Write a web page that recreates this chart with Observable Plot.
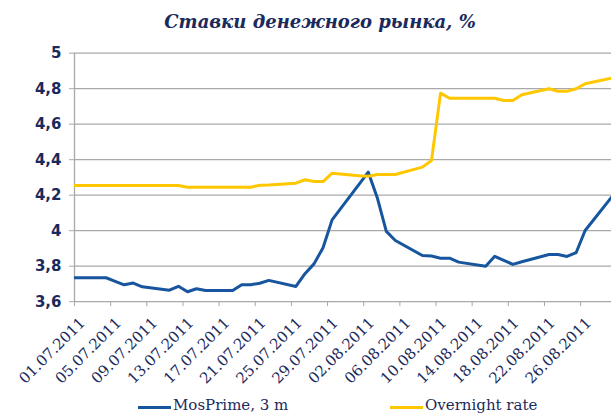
<!DOCTYPE html>
<html>
<head>
<meta charset="utf-8">
<script src="https://cdn.jsdelivr.net/npm/d3@7"></script>
<script src="https://cdn.jsdelivr.net/npm/@observablehq/plot@0.6"></script>
<style>
  html, body { margin: 0; padding: 0; background: #fff; }
  #wrap { position: relative; width: 611px; height: 416px; overflow: hidden; }
  #title { position: absolute; left: 0; top: 11px; width: 640px; text-align: center;
    font-family: "DejaVu Serif", serif; font-weight: bold; font-style: italic; font-size: 18px; color: #1b2a5c; }
  #chart { position: absolute; left: 0; top: 40px; }
  .leg { position: absolute; top: 396px; font-family: "DejaVu Serif", serif; font-size: 15px; color: #1b2a5c; line-height: 18px; white-space: nowrap; }
  .sw { display: inline-block; width: 33px; height: 3px; vertical-align: middle; margin-right: 2px; position: relative; top: 1px; }
</style>
</head>
<body>
<div id="wrap">
  <div id="title">Ставки денежного рынка, %</div>
  <div id="chart"></div>
  <div class="leg" style="left:138px"><span class="sw" style="background:#17569f"></span>MosPrime, 3 m</div>
  <div class="leg" style="left:390px"><span class="sw" style="background:#ffc700"></span>Overnight rate</div>
</div>
<script>
const dates = ["2011-06-30","2011-07-01","2011-07-04","2011-07-05","2011-07-06","2011-07-07","2011-07-08",
  "2011-07-11","2011-07-12","2011-07-13","2011-07-14","2011-07-15",
  "2011-07-18","2011-07-19","2011-07-20","2011-07-21","2011-07-22",
  "2011-07-25","2011-07-26","2011-07-27","2011-07-28","2011-07-29",
  "2011-08-01","2011-08-02","2011-08-03","2011-08-04","2011-08-05",
  "2011-08-08","2011-08-09","2011-08-10","2011-08-11","2011-08-12",
  "2011-08-15","2011-08-16","2011-08-17","2011-08-18","2011-08-19",
  "2011-08-22","2011-08-23","2011-08-24","2011-08-25","2011-08-26",
  "2011-08-29"];
const mosprime = [3.735,3.735,3.735,3.715,3.695,3.705,3.684,
  3.665,3.687,3.656,3.673,3.663,
  3.663,3.696,3.696,3.704,3.72,
  3.686,3.758,3.813,3.904,4.061,
  4.262,4.33,4.186,3.996,3.945,
  3.86,3.857,3.845,3.845,3.823,
  3.80,3.856,3.833,3.81,3.825,
  3.866,3.866,3.855,3.876,4.001,
  4.194];
const overnight = [4.255,4.255,4.255,4.255,4.255,4.255,4.255,
  4.255,4.255,4.245,4.245,4.245,
  4.245,4.245,4.245,4.256,4.258,
  4.268,4.287,4.277,4.277,4.324,
  4.31,4.307,4.317,4.317,4.317,
  4.358,4.395,4.775,4.746,4.746,
  4.746,4.746,4.734,4.734,4.766,
  4.80,4.786,4.786,4.80,4.828,
  4.86];
const seriesNames = ["MosPrime, 3 m", "Overnight rate"];
const seriesColors = ["#17569f", "#ffc700"];
const xTickLabels = ["01.07.2011","05.07.2011","09.07.2011","13.07.2011","17.07.2011","21.07.2011",
  "25.07.2011","29.07.2011","02.08.2011","06.08.2011","10.08.2011","14.08.2011","18.08.2011",
  "22.08.2011","26.08.2011"];
const yTicks = [3.6, 3.8, 4, 4.2, 4.4, 4.6, 4.8, 5];
const yTickLabels = ["3,6","3,8","4","4,2","4,4","4,6","4,8","5"];

const parseDate = s => new Date(s + "T00:00:00Z");
const parseLabel = s => { const [d, m, y] = s.split("."); return new Date(Date.UTC(+y, +m - 1, +d)); };
const HALF = 12 * 3600 * 1000;

const rows = [];
dates.forEach((d, i) => {
  rows.push({date: parseDate(d), value: mosprime[i], series: seriesNames[0]});
  rows.push({date: parseDate(d), value: overnight[i], series: seriesNames[1]});
});
const labelRows = xTickLabels.map(s => ({date: parseLabel(s), label: s}));
const boundaries = labelRows.map(r => new Date(+r.date - HALF));

const navy = "#1b2a5c";
const grid = "#a9a9a9";

const chart = Plot.plot({
  width: 611,
  height: 358,
  marginLeft: 74,
  marginRight: 0,
  marginTop: 12.7,
  marginBottom: 96.8,
  x: {type: "utc", domain: [new Date(Date.UTC(2011,5,30,12)), new Date(Date.UTC(2011,7,28,22))], axis: null},
  y: {domain: [3.6, 5], axis: null},
  color: {domain: seriesNames, range: seriesColors},
  marks: [
    Plot.ruleY(yTicks, {stroke: grid, strokeWidth: 1.3}),
    Plot.ruleX([new Date(Date.UTC(2011,5,30,12))], {stroke: grid, strokeWidth: 1.3}),
    Plot.axisY({ticks: yTicks, tickSize: 5, tickPadding: 8, stroke: grid, fill: navy,
      tickFormat: d => yTickLabels[yTicks.indexOf(d)], label: null,
      fontFamily: "DejaVu Sans", fontWeight: "bold", fontSize: 15}),
    Plot.axisX({ticks: boundaries, tickSize: 5, stroke: grid, tickFormat: () => "", label: null}),
    Plot.text(labelRows, {x: "date", frameAnchor: "bottom", text: "label", rotate: -45,
      textAnchor: "end", dx: 7, dy: 22, fill: navy, fontFamily: "DejaVu Serif", fontSize: 15}),
    Plot.line(rows, {x: "date", y: "value", z: "series", stroke: "series", strokeWidth: 3,
      clip: true, strokeLinejoin: "round"})
  ]
});
document.getElementById("chart").appendChild(chart);
</script>
</body>
</html>
